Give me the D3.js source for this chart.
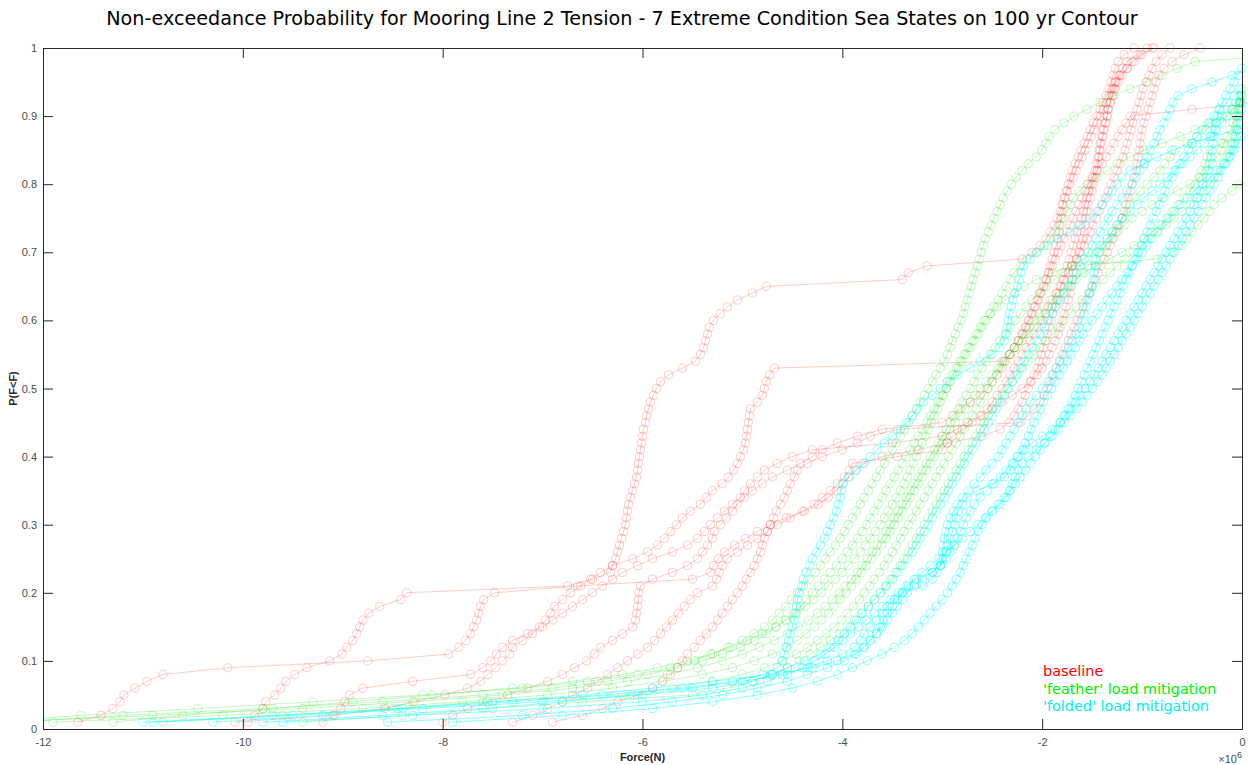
<!DOCTYPE html>
<html>
<head>
<meta charset="utf-8">
<script src="https://cdn.jsdelivr.net/npm/d3@7"></script>
<style>
  body { margin: 0; background: #ffffff; }
  svg { display: block; }
</style>
</head>
<body>
<svg id="chart" width="1248" height="765"></svg>
<script>
// Mooring line 2 tension samples per sea state (units of 1e6 N), sorted ascending.
// Each run is drawn as an empirical CDF: the k-th smallest sample sits at (k)/n.

const xTicks = [-12, -10, -8, -6, -4, -2, 0];
const yTicks = [0, 0.1, 0.2, 0.3, 0.4, 0.5, 0.6, 0.7, 0.8, 0.9, 1];

const groupNames = ["baseline", "'feather' load mitigation", "'folded' load mitigation"];

// ---- baseline ----
const base1 = [
  -11.65,-11.42,-11.3,-11.23,-11.19,-11.08,-10.96,-10.8,-10.15,-8.75,
  -7.94,-7.84,-7.77,-7.72,-7.69,-7.66,-7.64,-7.62,-7.59,-7.48,
  -6.65,-5.5,-5.32,-5.29,-5.24,-5.18,-5.08,-4.97,-4.85,-4.72,
  -4.56,-4.38,-4.24,-4.14,-4.06,-3.99,-3.93,-3.87,-3.8,-3.6,
  -3.25,-2.95,-2.6,-2.42,-2.33,-2.28,-2.24,-2.2,-2.17,-2.14,
  -2.11,-2.08,-2.05,-2.03,-2.01,-1.99,-1.97,-1.95,-1.93,-1.91,
  -1.89,-1.87,-1.85,-1.83,-1.81,-1.79,-1.77,-1.75,-1.73,-1.71,
  -1.69,-1.67,-1.65,-1.63,-1.61,-1.59,-1.57,-1.55,-1.53,-1.51,
  -1.49,-1.47,-1.46,-1.44,-1.43,-1.42,-1.4,-1.39,-1.37,-1.35,
  -1.34,-1.32,-1.3,-1.27,-1.24,-1.2,-1.15,-1.1,-1.02,-0.9
];
const base2 = [
  -9.95,-9.88,-9.8,-9.77,-9.68,-9.62,-9.57,-9.48,-9.36,-9.13,
  -9.01,-8.96,-8.9,-8.86,-8.83,-8.8,-8.74,-8.63,-8.42,-8.36,
  -6.75,-6.5,-6.32,-6.3,-6.27,-6.25,-6.23,-6.21,-6.19,-6.17,
  -6.16,-6.15,-6.14,-6.12,-6.1,-6.08,-6.06,-6.05,-6.04,-6.03,
  -6.02,-6.01,-6.0,-5.99,-5.97,-5.96,-5.94,-5.92,-5.89,-5.86,
  -5.82,-5.74,-5.6,-5.47,-5.42,-5.39,-5.37,-5.35,-5.33,-5.29,
  -5.22,-5.15,-5.05,-4.9,-4.76,-3.4,-3.34,-3.15,-2.2,-2.1,
  -2.02,-1.96,-1.92,-1.88,-1.85,-1.82,-1.8,-1.77,-1.75,-1.72,
  -1.69,-1.66,-1.63,-1.6,-1.57,-1.54,-1.51,-1.48,-1.45,-1.42,
  -1.39,-1.36,-1.33,-1.3,-1.27,-1.22,-1.15,-1.08,-1.0,-0.88
];
const base3 = [
  -10.08,-9.1,-8.58,-8.28,-7.98,-7.75,-7.62,-7.55,-7.47,-7.4,
  -7.33,-7.3,-7.2,-7.1,-7.03,-6.97,-6.92,-6.88,-6.8,-6.72,
  -6.62,-6.52,-6.42,-6.3,-6.1,-5.95,-5.85,-5.78,-5.72,-5.66,
  -5.6,-5.52,-5.42,-5.36,-5.3,-5.2,-5.14,-5.09,-5.05,-5.02,
  -4.99,-4.97,-4.96,-4.95,-4.94,-4.93,-4.92,-4.85,-4.8,-4.78,
  -4.76,-4.73,-4.68,-2.4,-2.33,-2.28,-2.24,-2.2,-2.16,-2.13,
  -2.1,-2.07,-2.04,-2.01,-1.98,-1.96,-1.94,-1.92,-1.9,-1.88,
  -1.86,-1.84,-1.83,-1.82,-1.81,-1.8,-1.79,-1.78,-1.76,-1.74,
  -1.72,-1.7,-1.67,-1.64,-1.61,-1.58,-1.55,-1.52,-1.49,-1.45,
  -1.42,-1.39,-1.36,-1.33,-1.31,-1.29,-1.27,-1.24,-1.18,-1.08
];
const base4 = [
  -9.2,-9.08,-9.02,-8.98,-8.93,-8.8,-8.3,-7.72,-7.6,-7.52,
  -7.46,-7.4,-7.3,-7.15,-7.0,-6.9,-6.8,-6.7,-6.6,-6.5,
  -6.4,-6.3,-6.2,-6.05,-5.9,-5.7,-5.55,-5.45,-5.38,-5.32,
  -5.25,-5.18,-5.1,-5.02,-4.98,-4.92,-4.85,-4.78,-4.65,-4.5,
  -4.3,-3.5,-3.0,-2.85,-2.75,-2.62,-2.55,-2.5,-2.45,-2.4,
  -2.36,-2.32,-2.28,-2.24,-2.2,-2.16,-2.12,-2.08,-2.04,-2.0,
  -1.97,-1.94,-1.9,-1.86,-1.82,-1.78,-1.74,-1.7,-1.66,-1.62,
  -1.58,-1.55,-1.52,-1.49,-1.46,-1.43,-1.4,-1.37,-1.34,-1.31,
  -1.28,-1.25,-1.22,-1.19,-1.17,-1.15,-1.13,-1.11,-1.09,-1.07,
  -1.05,-1.03,-1.01,-0.99,-0.96,-0.93,-0.9,-0.86,-0.8,-0.72
];
const base5 = [
  -8.0,-7.9,-7.75,-7.55,-7.35,-7.15,-6.95,-6.8,-6.68,-6.56,
  -6.48,-6.42,-6.3,-6.2,-6.1,-6.07,-6.06,-6.05,-6.04,-6.035,
  -6.02,-5.9,-5.7,-5.55,-5.45,-5.4,-5.35,-5.3,-5.28,-5.22,
  -5.16,-5.1,-5.05,-4.98,-4.9,-4.8,-4.7,-4.55,-4.42,-4.3,
  -4.2,-4.05,-3.85,-3.6,-3.0,-2.9,-2.82,-2.72,-2.62,-2.55,
  -2.5,-2.45,-2.4,-2.36,-2.32,-2.28,-2.24,-2.2,-2.17,-2.14,
  -2.11,-2.08,-2.05,-2.02,-1.99,-1.96,-1.93,-1.9,-1.87,-1.84,
  -1.81,-1.78,-1.75,-1.72,-1.69,-1.66,-1.63,-1.6,-1.57,-1.54,
  -1.5,-1.45,-1.4,-1.36,-1.32,-1.28,-1.24,-1.2,-1.16,-1.12,
  -0.5,0.2,0.5,0.8,1.0,1.2,1.4,1.6,1.8,2.0
];
const base6 = [
  -7.3,-7.1,-6.95,-6.8,-6.7,-6.55,-6.45,-6.35,-6.25,-6.15,
  -6.05,-5.95,-5.88,-5.82,-5.76,-5.7,-5.64,-5.58,-5.52,-5.45,
  -5.3,-5.26,-5.23,-5.2,-5.15,-5.05,-4.95,-4.85,-4.75,-4.65,
  -4.52,-4.4,-4.28,-4.2,-4.12,-4.05,-3.98,-3.93,-3.9,-3.45,
  -3.0,-2.95,-2.9,-2.8,-2.7,-2.6,-2.5,-2.4,-2.3,-2.2,
  -2.12,-2.05,-2.0,-1.96,-1.93,-1.9,-1.87,-1.84,-1.82,-1.8,
  -1.78,-1.76,-1.74,-1.72,-1.71,-1.7,-1.69,-1.67,-1.65,-1.63,
  -1.61,-1.6,-1.58,-1.57,-1.56,-1.55,-1.54,-1.52,-1.5,-1.49,
  -1.47,-1.45,-1.44,-1.43,-1.42,-1.41,-1.39,-1.38,-1.36,-1.35,
  -1.34,-1.32,-1.3,-1.28,-1.26,-1.23,-1.2,-1.15,-1.05,-0.95
];
const base7 = [
  -6.9,-6.6,-6.4,-6.25,-6.05,-5.9,-5.8,-5.72,-5.65,-5.6,
  -5.55,-5.48,-5.42,-5.36,-5.3,-5.25,-5.2,-5.15,-5.1,-5.05,
  -5.0,-4.96,-4.92,-4.88,-4.85,-4.82,-4.8,-4.78,-4.75,-4.72,
  -4.69,-4.66,-4.62,-4.58,-4.55,-4.52,-4.48,-4.45,-4.35,-4.2,
  -4.0,-3.85,-3.72,-3.45,-2.22,-2.15,-2.08,-2.02,-1.98,-1.95,
  -1.92,-1.89,-1.86,-1.83,-1.8,-1.77,-1.74,-1.71,-1.68,-1.65,
  -1.62,-1.59,-1.56,-1.53,-1.5,-1.47,-1.44,-1.41,-1.38,-1.35,
  -1.32,-1.29,-1.26,-1.23,-1.2,-1.18,-1.16,-1.14,-1.12,-1.1,
  -1.08,-1.06,-1.05,-1.04,-1.03,-1.02,-1.01,-1.0,-0.98,-0.96,
  -0.94,-0.92,-0.9,-0.88,-0.86,-0.83,-0.78,-0.7,-0.58,-0.42
];

// ---- 'feather' load mitigation ----
const feather1 = [
  -12.6,-11.62,-10.45,-9.3,-8.2,-7.2,-6.55,-6.05,-5.72,-5.48,
  -5.3,-5.15,-5.0,-4.88,-4.78,-4.7,-4.63,-4.57,-4.51,-4.45,
  -4.39,-4.33,-4.27,-4.22,-4.17,-4.12,-4.07,-4.02,-3.98,-3.94,
  -3.9,-3.86,-3.82,-3.78,-3.74,-3.7,-3.66,-3.62,-3.58,-3.54,
  -3.5,-3.46,-3.42,-3.38,-3.34,-3.3,-3.26,-3.22,-3.18,-3.14,
  -3.1,-3.06,-3.02,-2.98,-2.95,-2.92,-2.9,-2.87,-2.84,-2.81,
  -2.79,-2.77,-2.75,-2.73,-2.71,-2.69,-2.67,-2.65,-2.63,-2.61,
  -2.59,-2.57,-2.54,-2.51,-2.48,-2.45,-2.42,-2.39,-2.35,-2.31,
  -2.26,-2.2,-2.14,-2.06,-2.0,-1.96,-1.93,-1.87,-1.78,-1.68,
  -1.55,-1.42,-1.28,-1.12,-0.95,-0.8,-0.65,-0.47,0.45,1.3
];
const feather2 = [
  -12.3,-11.2,-9.8,-8.6,-7.6,-6.9,-6.35,-5.95,-5.65,-5.4,
  -5.2,-5.02,-4.88,-4.76,-4.66,-4.57,-4.49,-4.42,-4.36,-4.3,
  -4.24,-4.18,-4.12,-4.06,-4.0,-3.95,-3.9,-3.85,-3.8,-3.76,
  -3.72,-3.68,-3.64,-3.6,-3.56,-3.52,-3.48,-3.44,-3.4,-3.36,
  -3.32,-3.28,-3.24,-3.2,-3.16,-3.12,-3.08,-3.04,-3.0,-2.96,
  -2.92,-2.88,-2.84,-2.8,-2.76,-2.72,-2.68,-2.64,-2.6,-2.56,
  -2.52,-2.48,-2.44,-2.4,-2.36,-2.32,-2.28,-2.22,-2.15,-2.06,
  -1.98,-1.92,-1.87,-1.83,-1.79,-1.75,-1.72,-1.69,-1.63,-1.55,
  -1.45,-1.35,-1.25,-1.12,-0.98,-0.8,-0.62,-0.47,-0.32,-0.2,
  -0.1,-0.02,0.1,0.3,0.5,0.7,0.9,1.1,1.3,1.5
];
const feather3 = [
  -11.3,-10.6,-9.7,-8.9,-8.1,-7.3,-6.7,-6.2,-5.85,-5.55,
  -5.32,-5.12,-4.95,-4.8,-4.67,-4.56,-4.46,-4.37,-4.29,-4.21,
  -4.14,-4.07,-4.0,-3.94,-3.88,-3.82,-3.77,-3.72,-3.67,-3.62,
  -3.58,-3.54,-3.5,-3.46,-3.42,-3.38,-3.35,-3.32,-3.29,-3.26,
  -3.23,-3.2,-3.17,-3.14,-3.11,-3.08,-3.05,-3.02,-2.99,-2.96,
  -2.93,-2.9,-2.86,-2.82,-2.78,-2.74,-2.7,-2.66,-2.62,-2.58,
  -2.52,-2.45,-2.37,-2.28,-2.18,-2.06,-1.9,-1.7,-0.85,-0.7,
  -0.6,-0.55,-0.5,-0.44,-0.38,-0.33,-0.28,-0.2,-0.1,-0.02,
  0.05,0.15,0.3,0.45,0.6,0.75,0.9,1.05,1.2,1.35,
  1.5,1.65,1.8,1.95,2.1,2.25,2.4,2.55,2.7,2.85
];
const feather4 = [
  -12.4,-10.9,-9.4,-8.3,-7.4,-6.7,-6.15,-5.75,-5.45,-5.2,
  -5.0,-4.83,-4.68,-4.55,-4.44,-4.34,-4.25,-4.17,-4.1,-4.03,
  -3.97,-3.91,-3.85,-3.8,-3.75,-3.7,-3.65,-3.6,-3.56,-3.52,
  -3.48,-3.44,-3.4,-3.36,-3.32,-3.28,-3.24,-3.2,-3.16,-3.12,
  -3.08,-3.04,-3.0,-2.96,-2.92,-2.88,-2.84,-2.8,-2.76,-2.72,
  -2.68,-2.64,-2.6,-2.56,-2.52,-2.47,-2.42,-2.37,-2.32,-2.27,
  -2.22,-2.16,-2.1,-2.03,-1.96,-1.88,-1.8,-1.7,-1.6,-1.5,
  -1.42,-1.35,-1.3,-1.25,-1.2,-1.16,-1.12,-1.08,-1.02,-0.95,
  -0.88,-0.82,-0.77,-0.72,-0.67,-0.55,-0.45,-0.36,-0.26,-0.16,
  -0.08,-0.02,0.03,0.1,0.2,0.35,0.5,0.7,0.9,1.1
];
const feather5 = [
  -11.9,-10.2,-8.8,-7.8,-6.95,-6.3,-5.8,-5.4,-5.1,-4.88,
  -4.7,-4.56,-4.45,-4.36,-4.28,-4.21,-4.14,-4.08,-4.02,-3.96,
  -3.91,-3.86,-3.81,-3.76,-3.71,-3.66,-3.61,-3.56,-3.52,-3.48,
  -3.44,-3.4,-3.36,-3.32,-3.28,-3.24,-3.2,-3.16,-3.12,-3.08,
  -3.04,-3.0,-2.96,-2.92,-2.87,-2.82,-2.77,-2.72,-2.67,-2.62,
  -2.56,-2.5,-2.44,-2.38,-2.32,-2.26,-2.2,-2.14,-2.08,-2.02,
  -1.96,-1.9,-1.84,-1.78,-1.72,-1.66,-1.6,-1.54,-1.48,-1.42,
  -1.36,-1.3,-1.24,-1.18,-1.1,-1.0,-0.9,-0.78,-0.65,-0.52,
  -0.42,-0.35,-0.3,-0.25,-0.21,-0.18,-0.15,-0.12,-0.09,-0.06,
  -0.04,-0.02,0.0,0.05,0.15,0.3,0.5,0.7,0.9,1.1
];
const feather6 = [
  -10.8,-9.6,-8.5,-7.6,-6.2,-5.7,-5.3,-5.0,-4.78,-4.6,
  -4.46,-4.35,-4.25,-4.16,-4.08,-4.01,-3.95,-3.89,-3.83,-3.78,
  -3.73,-3.68,-3.63,-3.58,-3.54,-3.5,-3.46,-3.42,-3.38,-3.34,
  -3.3,-3.26,-3.22,-3.18,-3.14,-3.1,-3.06,-3.02,-2.98,-2.94,
  -2.9,-2.86,-2.82,-2.78,-2.74,-2.7,-2.66,-2.62,-2.58,-2.54,
  -2.5,-2.46,-2.42,-2.38,-2.33,-2.28,-2.23,-2.18,-2.13,-2.08,
  -2.03,-1.98,-1.92,-1.85,-1.77,-1.68,-1.58,-1.46,-1.33,-1.2,
  -1.08,-0.98,-0.9,-0.82,-0.76,-0.7,-0.64,-0.58,-0.52,-0.47,
  -0.43,-0.4,-0.37,-0.35,-0.32,-0.2,0.1,0.4,0.7,1.0,
  1.2,1.4,1.6,1.8,2.0,2.2,2.4,2.6,2.8,3.0
];
const feather7 = [
  -9.4,-8.4,-7.5,-6.6,-5.5,-5.15,-4.9,-4.7,-4.55,-4.43,
  -4.32,-4.22,-4.12,-4.03,-3.95,-3.88,-3.81,-3.74,-3.68,-3.62,
  -3.57,-3.52,-3.47,-3.42,-3.38,-3.34,-3.3,-3.26,-3.22,-3.18,
  -3.14,-3.1,-3.06,-3.02,-2.98,-2.94,-2.9,-2.86,-2.82,-2.78,
  -2.74,-2.7,-2.66,-2.62,-2.58,-2.54,-2.5,-2.45,-2.4,-2.35,
  -2.3,-2.25,-2.2,-2.14,-2.08,-2.02,-1.96,-1.9,-1.84,-1.78,
  -1.72,-1.66,-1.6,-1.53,-1.46,-1.39,-1.32,-1.25,-1.17,-1.09,
  -1.0,-0.92,-0.84,-0.76,-0.68,-0.6,-0.52,-0.45,-0.38,-0.32,
  -0.27,-0.22,-0.18,-0.15,-0.12,-0.1,-0.08,-0.06,-0.05,-0.04,
  -0.03,-0.02,-0.01,0.0,0.1,0.3,0.5,0.7,0.9,1.1
];

// ---- 'folded' load mitigation ----
const folded1 = [
  -11.0,-9.7,-8.4,-7.3,-6.4,-5.6,-5.1,-4.8,-4.65,-4.6,
  -4.58,-4.56,-4.54,-4.52,-4.5,-4.48,-4.47,-4.46,-4.45,-4.43,
  -4.41,-4.39,-4.36,-4.33,-4.3,-4.26,-4.22,-4.18,-4.15,-4.12,
  -4.09,-4.06,-4.04,-4.02,-4.01,-4.0,-3.94,-3.86,-3.78,-3.72,
  -3.65,-3.58,-3.5,-3.42,-3.36,-3.3,-3.25,-3.19,-3.1,-3.02,
  -2.95,-2.85,-2.72,-2.62,-2.5,-2.43,-2.38,-2.36,-2.35,-2.34,
  -2.33,-2.31,-2.29,-2.27,-2.25,-2.23,-2.21,-2.19,-2.12,-2.05,
  -1.95,-1.85,-1.72,-1.62,-1.52,-1.45,-1.4,-1.35,-1.3,-1.25,
  -1.2,-1.12,-0.98,-0.85,-0.7,-0.5,-0.3,-0.05,0.2,0.5,
  0.7,0.9,1.1,1.3,1.5,1.7,1.9,2.1,2.3,2.5
];
const folded2 = [
  -10.9,-9.5,-8.2,-7.0,-6.0,-5.3,-4.9,-4.72,-4.55,-4.38,
  -4.22,-4.12,-4.04,-3.98,-3.92,-3.86,-3.8,-3.74,-3.68,-3.62,
  -3.56,-3.5,-3.45,-3.4,-3.35,-3.3,-3.26,-3.22,-3.18,-3.14,
  -3.1,-3.06,-3.02,-2.98,-2.94,-2.9,-2.86,-2.82,-2.78,-2.74,
  -2.7,-2.66,-2.62,-2.58,-2.54,-2.5,-2.46,-2.42,-2.38,-2.34,
  -2.3,-2.26,-2.22,-2.18,-2.14,-2.1,-2.06,-2.02,-1.98,-1.94,
  -1.9,-1.86,-1.82,-1.78,-1.74,-1.7,-1.66,-1.62,-1.58,-1.54,
  -1.5,-1.46,-1.42,-1.38,-1.34,-1.3,-1.25,-1.2,-1.15,-1.1,
  -1.06,-1.02,-0.98,-0.95,-0.92,-0.88,-0.85,-0.82,-0.78,-0.75,
  -0.72,-0.69,-0.64,-0.5,-0.3,-0.1,0.1,0.3,0.5,0.7
];
const folded3 = [
  -9.8,-8.6,-7.6,-6.8,-6.1,-5.5,-5.0,-4.6,-4.35,-4.15,
  -4.0,-3.88,-3.82,-3.78,-3.72,-3.66,-3.6,-3.55,-3.48,-3.4,
  -3.2,-3.1,-3.05,-3.02,-3.01,-3.0,-2.99,-2.98,-2.97,-2.95,
  -2.92,-2.89,-2.85,-2.8,-2.74,-2.68,-2.62,-2.56,-2.5,-2.44,
  -2.4,-2.36,-2.32,-2.28,-2.24,-2.2,-2.16,-2.12,-2.06,-2.0,
  -1.94,-1.9,-1.86,-1.82,-1.78,-1.74,-1.7,-1.66,-1.63,-1.6,
  -1.58,-1.56,-1.54,-1.52,-1.5,-1.49,-1.48,-1.47,-1.46,-1.44,
  -1.4,-1.35,-1.3,-1.25,-1.2,-1.12,-1.05,-0.98,-0.9,-0.82,
  -0.75,-0.68,-0.6,-0.52,-0.45,-0.38,-0.32,-0.26,-0.2,-0.15,
  -0.1,-0.06,-0.02,0.05,0.2,0.4,0.6,0.8,1.0,1.2
];
const folded4 = [
  -10.3,-9.2,-8.45,-7.5,-6.6,-5.9,-5.3,-4.7,-4.3,-4.05,
  -3.88,-3.79,-3.72,-3.66,-3.62,-3.59,-3.55,-3.5,-3.45,-3.4,
  -3.34,-3.26,-3.1,-3.02,-2.99,-2.96,-2.94,-2.92,-2.9,-2.88,
  -2.86,-2.84,-2.8,-2.75,-2.65,-2.5,-2.38,-2.32,-2.28,-2.24,
  -2.2,-2.17,-2.14,-2.11,-2.08,-2.05,-2.02,-1.99,-1.95,-1.91,
  -1.87,-1.83,-1.79,-1.75,-1.71,-1.67,-1.63,-1.59,-1.55,-1.5,
  -1.45,-1.4,-1.35,-1.3,-1.25,-1.2,-1.15,-1.1,-1.05,-1.0,
  -0.95,-0.9,-0.85,-0.8,-0.74,-0.68,-0.62,-0.55,-0.48,-0.4,
  -0.32,-0.25,-0.18,-0.12,-0.08,-0.04,-0.01,0.05,0.2,0.4,
  0.6,0.8,1.0,1.2,1.4,1.6,1.8,2.0,2.2,2.4
];
const folded5 = [
  -8.55,-7.2,-6.3,-5.7,-5.2,-4.85,-4.55,-4.35,-4.15,-3.98,
  -3.86,-3.78,-3.72,-3.66,-3.6,-3.55,-3.5,-3.45,-3.4,-3.35,
  -3.28,-3.2,-3.1,-3.02,-2.96,-2.92,-2.88,-2.85,-2.82,-2.79,
  -2.76,-2.72,-2.68,-2.62,-2.55,-2.48,-2.42,-2.36,-2.3,-2.25,
  -2.18,-2.1,-2.0,-1.9,-1.82,-1.78,-1.74,-1.7,-1.67,-1.64,
  -1.61,-1.58,-1.55,-1.52,-1.49,-1.46,-1.43,-1.4,-1.37,-1.34,
  -1.31,-1.28,-1.25,-1.22,-1.19,-1.16,-1.13,-1.1,-1.07,-1.04,
  -1.01,-0.98,-0.95,-0.92,-0.89,-0.86,-0.83,-0.8,-0.77,-0.74,
  -0.7,-0.66,-0.62,-0.58,-0.54,-0.5,-0.45,-0.4,-0.34,-0.28,
  -0.22,-0.15,-0.08,-0.02,0.1,0.3,0.5,0.7,0.9,1.1
];
const folded6 = [
  -7.9,-6.8,-5.9,-5.3,-4.85,-4.5,-4.25,-4.05,-3.9,-3.75,
  -3.6,-3.48,-3.38,-3.3,-3.24,-3.18,-3.12,-3.06,-3.0,-2.95,
  -2.9,-2.86,-2.82,-2.79,-2.76,-2.73,-2.7,-2.67,-2.64,-2.6,
  -2.56,-2.5,-2.42,-2.36,-2.33,-2.3,-2.27,-2.24,-2.2,-2.14,
  -2.06,-1.98,-1.9,-1.84,-1.78,-1.72,-1.66,-1.6,-1.55,-1.5,
  -1.45,-1.4,-1.36,-1.32,-1.28,-1.24,-1.2,-1.16,-1.12,-1.08,
  -1.04,-1.0,-0.96,-0.92,-0.88,-0.84,-0.8,-0.76,-0.72,-0.68,
  -0.64,-0.6,-0.56,-0.52,-0.48,-0.44,-0.4,-0.36,-0.32,-0.28,
  -0.24,-0.2,-0.16,-0.13,-0.1,-0.08,-0.06,-0.04,-0.03,-0.02,
  -0.01,0.0,0.02,0.1,0.3,0.5,0.7,0.9,1.1,1.3
];
const folded7 = [
  -9.6,-8.3,-7.0,-6.0,-5.4,-5.0,-4.75,-4.55,-4.4,-4.28,
  -4.17,-4.08,-4.0,-3.92,-3.84,-3.76,-3.68,-3.6,-3.52,-3.44,
  -3.36,-3.28,-3.2,-3.12,-3.04,-2.96,-2.88,-2.8,-2.72,-2.64,
  -2.57,-2.5,-2.44,-2.38,-2.32,-2.27,-2.22,-2.17,-2.12,-2.07,
  -2.02,-1.97,-1.92,-1.87,-1.82,-1.77,-1.72,-1.67,-1.62,-1.57,
  -1.52,-1.48,-1.44,-1.4,-1.36,-1.32,-1.28,-1.24,-1.2,-1.16,
  -1.12,-1.08,-1.04,-1.0,-0.96,-0.92,-0.88,-0.84,-0.8,-0.76,
  -0.72,-0.68,-0.64,-0.6,-0.56,-0.52,-0.48,-0.45,-0.42,-0.39,
  -0.36,-0.34,-0.32,-0.31,-0.3,-0.29,-0.28,-0.27,-0.26,-0.25,
  -0.23,-0.2,-0.16,-0.12,-0.08,-0.04,0.0,0.3,0.6,0.9
];

const groups = [
  { name: groupNames[0], color: "#ff0000", alpha: 0.2,  runs: [base1, base2, base3, base4, base5, base6, base7] },
  { name: groupNames[1], color: "#00e000", alpha: 0.24, runs: [feather1, feather2, feather3, feather4, feather5, feather6, feather7] },
  { name: groupNames[2], color: "#00ffff", alpha: 0.45, runs: [folded1, folded2, folded3, folded4, folded5, folded6, folded7] }
];
const legendColors = ["#ff0000", "#00ee00", "#00eeee"];

// ---- layout ----
const plot = { left: 43, right: 1242, top: 48, bottom: 729 };

const svg = d3.select("#chart");
const x = d3.scaleLinear().domain([-12, 0]).range([plot.left, plot.right]);
const y = d3.scaleLinear().domain([0, 1]).range([plot.bottom, plot.top]);

svg.append("defs").append("clipPath").attr("id", "plotClip")
  .append("rect")
  .attr("x", plot.left).attr("y", plot.top)
  .attr("width", plot.right - plot.left).attr("height", plot.bottom - plot.top);

// empirical CDF of a sorted sample list
const ecdf = samples => samples.map((v, i) => [v, (i + 1) / samples.length]);

const line = d3.line().x(d => x(d[0])).y(d => y(d[1]));
const [xMin, xMax] = x.domain();

const dataLayer = svg.append("g");
groups.forEach(g => {
  const gg = dataLayer.append("g");
  g.runs.forEach(run => {
    const pts = ecdf(run);
    gg.append("path")
      .attr("d", line(pts))
      .attr("clip-path", "url(#plotClip)")
      .attr("fill", "none")
      .attr("stroke", g.color)
      .attr("stroke-opacity", g.alpha)
      .attr("stroke-width", 1);
    gg.selectAll(null)
      .data(pts.filter(p => p[0] >= xMin && p[0] <= xMax))
      .enter().append("circle")
      .attr("cx", d => x(d[0]))
      .attr("cy", d => y(d[1]))
      .attr("r", 4.1)
      .attr("fill", "none")
      .attr("stroke", g.color)
      .attr("stroke-opacity", g.alpha)
      .attr("stroke-width", 1);
  });
});

// ---- axes (box with inward ticks) ----
const axisColor = "#262626";
const labelColor = "#4d4d4d";
const fmt = d => String(d);

function styleAxis(sel) {
  sel.select(".domain").attr("stroke", axisColor).attr("stroke-width", 1);
  sel.selectAll(".tick line").attr("stroke", axisColor);
  sel.selectAll(".tick text")
    .attr("fill", labelColor)
    .style("font-family", "'Liberation Sans', Arial, sans-serif")
    .style("font-size", "11px");
}

svg.append("g").attr("transform", `translate(0,${plot.bottom})`)
  .call(d3.axisBottom(x).tickValues(xTicks).tickSize(-10).tickSizeOuter(0).tickPadding(9).tickFormat(fmt))
  .call(styleAxis);
svg.append("g").attr("transform", `translate(0,${plot.top})`)
  .call(d3.axisTop(x).tickValues(xTicks).tickSize(-10).tickSizeOuter(0).tickFormat(""))
  .call(styleAxis);
svg.append("g").attr("transform", `translate(${plot.left},0)`)
  .call(d3.axisLeft(y).tickValues(yTicks).tickSize(-10).tickSizeOuter(0).tickPadding(6).tickFormat(fmt))
  .call(styleAxis);
svg.append("g").attr("transform", `translate(${plot.right},0)`)
  .call(d3.axisRight(y).tickValues(yTicks).tickSize(-10).tickSizeOuter(0).tickFormat(""))
  .call(styleAxis);

// exponent marker
const expo = svg.append("text")
  .attr("x", plot.right).attr("y", 763)
  .attr("text-anchor", "end")
  .attr("fill", labelColor)
  .style("font-family", "'Liberation Sans', Arial, sans-serif")
  .style("font-size", "11px");
expo.append("tspan").text("\u00d710");
expo.append("tspan").attr("dy", -5).style("font-size", "9px").text("6");

// axis titles
svg.append("text")
  .attr("x", (plot.left + plot.right) / 2).attr("y", 761)
  .attr("text-anchor", "middle")
  .attr("fill", "#262626")
  .style("font-family", "'Liberation Sans', Arial, sans-serif")
  .style("font-size", "11px").style("font-weight", "bold")
  .text("Force(N)");

svg.append("text")
  .attr("transform", `translate(17,${(plot.top + plot.bottom) / 2}) rotate(-90)`)
  .attr("text-anchor", "middle")
  .attr("fill", "#262626")
  .style("font-family", "'Liberation Sans', Arial, sans-serif")
  .style("font-size", "11px").style("font-weight", "bold")
  .text("P(F<F)");

// chart title
svg.append("text")
  .attr("x", 622).attr("y", 25)
  .attr("text-anchor", "middle")
  .attr("fill", "#000000")
  .style("font-family", "'DejaVu Sans', sans-serif")
  .style("font-size", "19.2px")
  .text("Non-exceedance Probability for Mooring Line 2 Tension - 7 Extreme Condition Sea States on 100 yr Contour");

// legend text
groups.forEach((g, i) => {
  svg.append("text")
    .attr("x", 1043).attr("y", 676 + i * 17.5)
    .attr("fill", legendColors[i])
    .style("font-family", "'DejaVu Sans', sans-serif")
    .style("font-size", "14.4px")
    .text(g.name);
});
</script>
</body>
</html>
